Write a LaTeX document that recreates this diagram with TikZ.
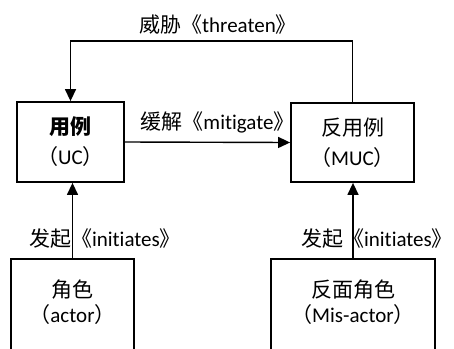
\documentclass[tikz,border=0pt]{standalone}
\usepackage{fontspec}
\setmainfont{Carlito}[Ligatures=NoCommon]
\newfontfamily\cjk{Noto Sans CJK SC}
\usetikzlibrary{arrows.meta}
\begin{document}
\begin{tikzpicture}[x=1pt,y=-1pt,
  box/.style={draw, line width=1.8pt, inner sep=0pt, align=center},
  txt/.style={inner sep=0pt, align=center},
  lbl/.style={inner sep=0pt, font=\fontsize{21}{25}\selectfont},
  conn/.style={line width=1.4pt},
  arr/.style={conn, -{Triangle[length=12pt,width=11pt]}}]
\useasboundingbox (0,0) rectangle (454,348);
\clip (0,0) rectangle (454,348);
% boxes
\node[box, minimum width=107pt, minimum height=80pt, font=\fontsize{21}{30}\selectfont] (uc) at (70.5,142) {{\cjk\bfseries 用例}\\{\cjk （}UC{\cjk ）}};
\node[box, minimum width=123pt, minimum height=79pt, font=\fontsize{21}{30}\selectfont] (muc) at (352.5,142.5) {{\cjk 反用例}\\{\cjk （}MUC{\cjk ）}};
\node[box, minimum width=123pt, minimum height=112pt, anchor=north] (actor) at (72.5,258) {};
\node[box, minimum width=164pt, minimum height=112pt, anchor=north] (mis) at (353,258) {};
\node[txt, font=\fontsize{21}{25}\selectfont] (actortxt) at (72.5,302) {{\cjk 角色}\\{\cjk （}actor{\cjk ）}};
\node[txt, font=\fontsize{21}{25}\selectfont] (mistxt) at (353,302) {{\cjk 反面角色}\\{\cjk （}Mis-actor{\cjk ）}};
% labels
\node[lbl] (lthreat) at (218,25) {{\cjk 威胁《}threaten{\cjk 》}};
\node[lbl] (lmit) at (217.5,122) {{\cjk 缓解《}mitigate{\cjk 》}};
\node[lbl] (lini1) at (105,239) {{\cjk 发起《}initiates{\cjk 》}};
\node[lbl] (lini2) at (377,239) {{\cjk 发起《}initiates{\cjk 》}};
% connectors
\coordinate (topr) at (352.5,41);
\draw[arr] (muc.north) -- (topr) -| (uc.north);
\draw[arr] (uc.east) -- (muc.west);
\draw[arr] (actor.north) -- (actor.north |- uc.south);
\draw[arr] (mis.north) -- (mis.north |- muc.south);
\end{tikzpicture}
\end{document}
